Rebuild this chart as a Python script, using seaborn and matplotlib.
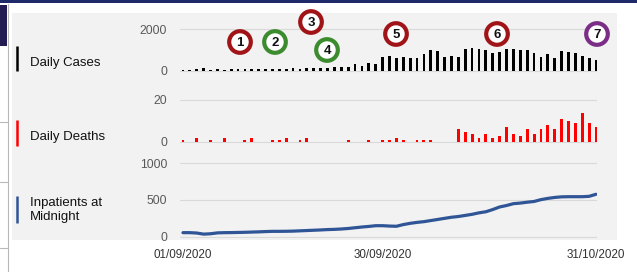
import numpy as np
import pandas as pd
import matplotlib.pyplot as plt
import seaborn as sns
from matplotlib.patches import Rectangle, Circle

# Daily values, 01/09/2020 .. 31/10/2020
dates = pd.date_range("2020-09-01", "2020-10-31", freq="D")

daily_cases = [20, 30, 100, 110, 40, 60, 50, 60, 70, 60,
               60, 70, 60, 70, 80, 70, 110, 80, 130, 140,
               120, 150, 160, 200, 180, 300, 250, 350, 300, 650,
               700, 600, 650, 600, 620, 800, 1000, 950, 650, 700,
               650, 1050, 1100, 1050, 1000, 850, 900, 1050, 1050, 1000,
               1000, 850, 650, 800, 600, 950, 900, 850, 700, 600,
               500]

daily_deaths = [1, 0, 2, 0, 1, 0, 2, 0, 0, 1,
                2, 0, 0, 1, 1, 2, 0, 1, 2, 0,
                0, 0, 0, 0, 1, 0, 0, 1, 0, 1,
                1, 2, 1, 0, 1, 1, 1, 0, 0, 0,
                6, 5, 4, 2, 4, 2, 3, 7, 4, 3,
                6, 4, 6, 8, 6, 11, 10, 9, 14, 9,
                7]

inpatients = [55, 55, 50, 35, 40, 52, 55, 56, 58, 60,
              63, 66, 70, 73, 73, 74, 76, 80, 84, 88,
              92, 97, 100, 105, 112, 122, 132, 140, 150, 150,
              145, 142, 165, 182, 195, 205, 220, 235, 250, 265,
              275, 290, 305, 325, 340, 370, 405, 425, 450, 458,
              470, 480, 505, 522, 535, 543, 545, 545, 545, 550,
              578]

tick_labels = ["01/09/2020", "30/09/2020", "31/10/2020"]
tick_days = [0, 29, 60]

row_labels = ["Daily Cases", "Daily Deaths", "Inpatients at\nMidnight"]
row_colors = ["black", "#ff0000", "#2f5597"]

badge_text = ["1", "2", "3", "4", "5", "6", "7"]
badge_colors = ["#a01418", "#3d8b2f", "#a01418", "#3d8b2f", "#a01418", "#a01418", "#7b2e86"]
badge_pos = [(240, 42), (275, 42), (311, 22), (327, 50), (396, 34), (497, 34), (597, 34)]

day = np.arange(len(dates))

sns.set_theme(style="white")
plt.rcParams["font.family"] = ["Liberation Sans", "DejaVu Sans"]

W, H = 637, 272
fig = plt.figure(figsize=(W / 100, H / 100), dpi=100)
fig.patch.set_facecolor("white")

# background decoration in pixel coords
bg = fig.add_axes([0, 0, 1, 1], zorder=-5)
bg.set_xlim(0, W)
bg.set_ylim(H, 0)
bg.axis("off")
bg.add_patch(Rectangle((12, 13), 605, 227, color="#f2f2f2", lw=0))
bg.add_patch(Rectangle((0, 0), W, 2.5, color="#1f2a6b", lw=0))
bg.add_patch(Rectangle((0, 5), 7, 41, color="#231c52", lw=0))
bg.plot([7.5, 7.5], [4, H], color="#b8b8b8", lw=0.8)
for yy in [122, 182, 248]:
    bg.plot([0, 7.5], [yy, yy], color="#b8b8b8", lw=0.8)

X0, X1 = 180.2, 597.4


def place(p0, p1, v1, lo_frac, hi_frac):
    s = (p0 - p1) / v1
    bottom_px = p0 + lo_frac * v1 * s
    top_px = p0 - hi_frac * v1 * s
    rect = [X0 / W, 1 - bottom_px / H, (X1 - X0) / W, (bottom_px - top_px) / H]
    return rect, (-lo_frac * v1, hi_frac * v1)


r1, yl1 = place(70.7, 29.3, 2000, 0.1, 1.1)
r2, yl2 = place(142.0, 100.0, 20, 0.1, 1.1)
r3, yl3 = place(236.7, 163.3, 1000, 0.04, 1.05)

ax1 = fig.add_axes(r1)
ax2 = fig.add_axes(r2)
ax3 = fig.add_axes(r3)

sns.barplot(x=day, y=daily_cases, native_scale=True, color="black",
            saturation=1, width=0.4, linewidth=0, ax=ax1)
sns.barplot(x=day, y=daily_deaths, native_scale=True, color="#ff0000",
            saturation=1, width=0.42, linewidth=0, ax=ax2)
sns.lineplot(x=day, y=inpatients, color="#2f5597", linewidth=2.3, ax=ax3)

for ax, yl, ticks in [(ax1, yl1, [0, 2000]), (ax2, yl2, [0, 20]), (ax3, yl3, [0, 500, 1000])]:
    ax.set_facecolor("none")
    ax.set_xlim(-0.4, 60.2)
    ax.set_ylim(*yl)
    ax.set_yticks(ticks)
    ax.set_yticklabels([str(t) for t in ticks])
    ax.yaxis.grid(True, color="#d9d9d9", lw=0.8)
    ax.set_axisbelow(True)
    ax.xaxis.grid(False)
    ax.tick_params(axis="y", length=0, pad=9.4, labelsize=8.8, labelcolor="#595959")
    ax.tick_params(axis="x", length=0)
    ax.set_xlabel("")
    ax.set_ylabel("")
    sns.despine(ax=ax, left=True, bottom=True)

for ax in [ax1, ax2]:
    ax.set_xticks([])

ax3.set_xticks(tick_days)
ax3.set_xticklabels(tick_labels)
ax3.tick_params(axis="x", pad=7, labelsize=8.4, labelcolor="#333333")

# row labels with coloured markers
label_y = [63, 137, 210]
mark_span = [(46, 71), (120, 146), (196, 223)]
for lab, col, yy, (a, b) in zip(row_labels, row_colors, label_y, mark_span):
    bg.plot([17, 17], [a, b], color=col, lw=1.8, solid_capstyle="butt")
    bg.text(30, yy, lab, fontsize=9.5, va="center", ha="left", color="#111111",
            linespacing=1.25)

# numbered badges
ov = fig.add_axes([0, 0, 1, 1], zorder=10)
ov.set_xlim(0, W)
ov.set_ylim(H, 0)
ov.axis("off")
for t, c, (bx, by) in zip(badge_text, badge_colors, badge_pos):
    ov.add_patch(Circle((bx, by), 10.8, facecolor="white", edgecolor=c, lw=3))
    ov.text(bx, by + 0.5, t, ha="center", va="center", fontsize=9.5,
            fontweight="bold", color="#111111")

fig.savefig("out.png", dpi=100)
